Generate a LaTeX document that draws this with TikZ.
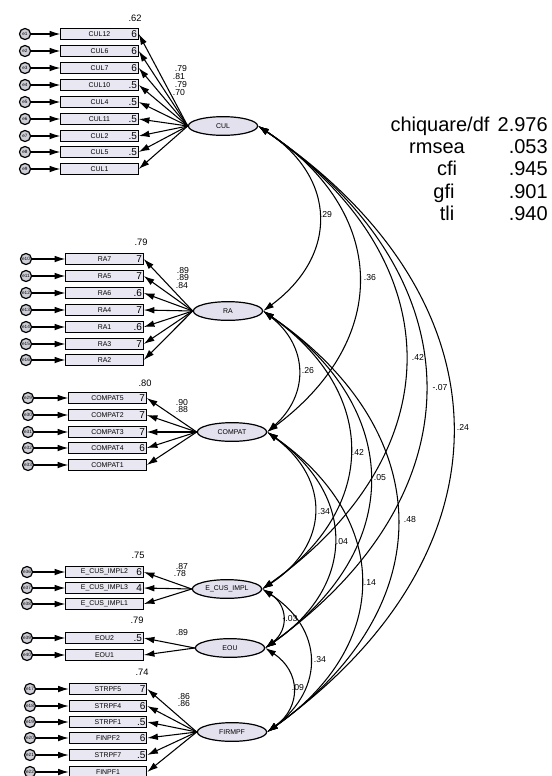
\documentclass[tikz,border=0pt]{standalone}
\usepackage{fontspec}
\setmainfont{Liberation Sans}
\usetikzlibrary{arrows.meta,shapes.geometric}
\definecolor{boxfill}{RGB}{233,231,241}
\definecolor{latfill}{RGB}{226,225,237}
\definecolor{errfill}{RGB}{205,205,214}
\begin{document}
\begin{tikzpicture}[x=0.75pt,y=-0.75pt,
  obs/.style={draw, line width=0.9pt, fill=boxfill, minimum width=58pt, minimum height=8.6pt, inner sep=0pt, font=\fontsize{5.2}{6}\selectfont},
  lat/.style={ellipse, draw, line width=0.9pt, fill=latfill, minimum width=52pt, minimum height=14pt, inner sep=0pt, font=\fontsize{5.2}{6}\selectfont},
  err/.style={circle, draw, line width=0.9pt, fill=errfill, minimum size=8.3pt, inner sep=0pt, font=\fontsize{3.5}{4}\selectfont},
  arr/.style={-{Latex[length=8pt,width=5pt]}, line width=0.8pt},
  cov/.style={{Latex[length=8pt,width=5pt]}-{Latex[length=8pt,width=5pt]}, line width=0.8pt, bend left=55, looseness=1.3},
  rsq/.style={font=\fontsize{7.5}{8}\selectfont, inner sep=0pt, anchor=east},
  lbl/.style={font=\fontsize{6.5}{7}\selectfont, inner sep=0pt},
  fitt/.style={font=\fontsize{15}{17}\selectfont, inner sep=0pt}
]
\useasboundingbox (0,0) rectangle (552,776);
\fill[white] (0,0) rectangle (552,776);

% latent factors
\node[lat] (CUL) at (223,126) {CUL};
\node[lat] (RA) at (228,311) {RA};
\node[lat] (COMPAT) at (232,432) {COMPAT};
\node[lat] (ECUS) at (227,589) {E\_CUS\_IMPL};
\node[lat] (EOU) at (230,648) {EOU};
\node[lat] (FIRMPF) at (232,732) {FIRMPF};

% CUL block
\foreach \i/\nm/\yy/\rr/\ee in {1/CUL12/34/6/e1, 2/CUL6/51/6/e2, 3/CUL7/68/6/e3, 4/CUL10/85/.5/e4, 5/CUL4/102/.5/e5, 6/CUL11/119/.5/e6, 7/CUL2/136/.5/e7, 8/CUL5/152/.5/e8, 9/CUL1/169/{}/e9}{
  \node[obs] (c\i) at (99.5,\yy) {\nm};
  \node[rsq] at ([xshift=-1.2pt]c\i.east) {\rr};
  \node[err] (ec\i) at (25,\yy) {\ee};
  \draw[arr] (ec\i) -- (c\i);
  \draw[arr] (CUL.west) -- (c\i.east);
}
% RA block
\foreach \i/\nm/\yy/\rr/\ee in {1/RA7/259/7/e10, 2/RA5/276/7/e11, 3/RA6/293/.6/e12, 4/RA4/310/7/e13, 5/RA1/327/.6/e14, 6/RA3/344/7/e15, 7/RA2/360/{}/e16}{
  \node[obs] (r\i) at (104.5,\yy) {\nm};
  \node[rsq] at ([xshift=-1.2pt]r\i.east) {\rr};
  \node[err] (er\i) at (26,\yy) {\ee};
  \draw[arr] (er\i) -- (r\i);
  \draw[arr] (RA.west) -- (r\i.east);
}
% COMPAT block
\foreach \i/\nm/\yy/\rr/\ee in {1/COMPAT5/398/7/e29, 2/COMPAT2/415/7/e30, 3/COMPAT3/432/7/e31, 4/COMPAT4/448/6/e32, 5/COMPAT1/465/{}/e33}{
  \node[obs] (p\i) at (107.5,\yy) {\nm};
  \node[rsq] at ([xshift=-1.2pt]p\i.east) {\rr};
  \node[err] (ep\i) at (28,\yy) {\ee};
  \draw[arr] (ep\i) -- (p\i);
  \draw[arr] (COMPAT.west) -- (p\i.east);
}
% E_CUS_IMPL block
\foreach \i/\nm/\yy/\rr/\ee in {1/E\_CUS\_IMPL2/572/6/e36, 2/E\_CUS\_IMPL3/588/4/e37, 3/E\_CUS\_IMPL1/604/{}/e38}{
  \node[obs] (u\i) at (104.5,\yy) {\nm};
  \node[rsq] at ([xshift=-1.2pt]u\i.east) {\rr};
  \node[err] (eu\i) at (27,\yy) {\ee};
  \draw[arr] (eu\i) -- (u\i);
  \draw[arr] (ECUS.west) -- (u\i.east);
}
% EOU block
\foreach \i/\nm/\yy/\rr/\ee in {1/EOU2/638/.5/e39, 2/EOU1/655/{}/e40}{
  \node[obs] (o\i) at (104.5,\yy) {\nm};
  \node[rsq] at ([xshift=-1.2pt]o\i.east) {\rr};
  \node[err] (eo\i) at (27,\yy) {\ee};
  \draw[arr] (eo\i) -- (o\i);
  \draw[arr] (EOU.west) -- (o\i.east);
}
% FIRMPF block
\foreach \i/\nm/\yy/\rr/\ee in {1/STRPF5/689/7/e17, 2/STRPF4/706/6/e18, 3/STRPF1/722/.5/e19, 4/FINPF2/738/6/e20, 5/STRPF7/755/.5/e21, 6/FINPF1/772/{}/e22}{
  \node[obs] (f\i) at (108,\yy) {\nm};
  \node[rsq] at ([xshift=-1.2pt]f\i.east) {\rr};
  \node[err] (ef\i) at (30,\yy) {\ee};
  \draw[arr] (ef\i) -- (f\i);
  \draw[arr] (FIRMPF.west) -- (f\i.east);
}

% R-squared labels above blocks
\node[lbl, font=\fontsize{7}{8}\selectfont] at (135,18) {.62};
\node[lbl, font=\fontsize{7}{8}\selectfont] at (141,242) {.79};
\node[lbl, font=\fontsize{7}{8}\selectfont] at (145,383) {.80};
\node[lbl, font=\fontsize{7}{8}\selectfont] at (138,555) {.75};
\node[lbl, font=\fontsize{7}{8}\selectfont] at (137,620) {.79};
\node[lbl, font=\fontsize{7}{8}\selectfont] at (142,672) {.74};

% loading labels
\node[lbl] at (181,69) {.79};
\node[lbl] at (179,77) {.81};
\node[lbl] at (181,85) {.79};
\node[lbl] at (179,93) {.70};
\node[lbl] at (183,271) {.89};
\node[lbl] at (183,278) {.89};
\node[lbl] at (182,286) {.84};
\node[lbl] at (182,403) {.90};
\node[lbl] at (182,410) {.88};
\node[lbl] at (182,567) {.87};
\node[lbl] at (180,574) {.78};
\node[lbl] at (182,633) {.89};
\node[lbl] at (184,697) {.86};
\node[lbl] at (184,704) {.86};

% covariances
\draw[cov] (CUL.east) to (RA.east);
\draw[cov] (CUL.east) to (COMPAT.east);
\draw[cov] (CUL.east) to (ECUS.east);
\draw[cov] (CUL.east) to (EOU.east);
\draw[cov] (CUL.east) to (FIRMPF.east);
\draw[cov, bend left=50, looseness=1.2] (RA.east) to (COMPAT.east);
\draw[cov] (RA.east) to (ECUS.east);
\draw[cov] (RA.east) to (EOU.east);
\draw[cov] (RA.east) to (FIRMPF.east);
\draw[cov] (COMPAT.east) to (ECUS.east);
\draw[cov] (COMPAT.east) to (EOU.east);
\draw[cov] (COMPAT.east) to (FIRMPF.east);
\draw[cov] (ECUS.east) to (EOU.east);
\draw[cov] (ECUS.east) to (FIRMPF.east);
\draw[cov] (EOU.east) to (FIRMPF.east);

% covariance labels
\node[lbl] at (326,215) {.29};
\node[lbl] at (370,278) {.36};
\node[lbl] at (418,357) {.42};
\node[lbl] at (440,388) {-.07};
\node[lbl] at (463,427) {.24};
\node[lbl] at (308,371) {.26};
\node[lbl] at (358,452) {.42};
\node[lbl] at (380,478) {.05};
\node[lbl] at (410,520) {.48};
\node[lbl] at (324,512) {.34};
\node[lbl] at (342,542) {.04};
\node[lbl] at (370,583) {.14};
\node[lbl] at (290,619) {-.03};
\node[lbl] at (320,660) {.34};
\node[lbl] at (298,688) {.09};

% fit indices
\node[fitt, anchor=mid] at (440,128) {chiquare/df};
\node[fitt, anchor=mid east] at (548,128) {2.976};
\node[fitt, anchor=mid] at (437,150) {rmsea};
\node[fitt, anchor=mid east] at (548,150) {.053};
\node[fitt, anchor=mid] at (447,172) {cfi};
\node[fitt, anchor=mid east] at (548,172) {.945};
\node[fitt, anchor=mid] at (444,195) {gfi};
\node[fitt, anchor=mid east] at (548,195) {.901};
\node[fitt, anchor=mid] at (447,217) {tli};
\node[fitt, anchor=mid east] at (548,217) {.940};
\end{tikzpicture}
\end{document}
